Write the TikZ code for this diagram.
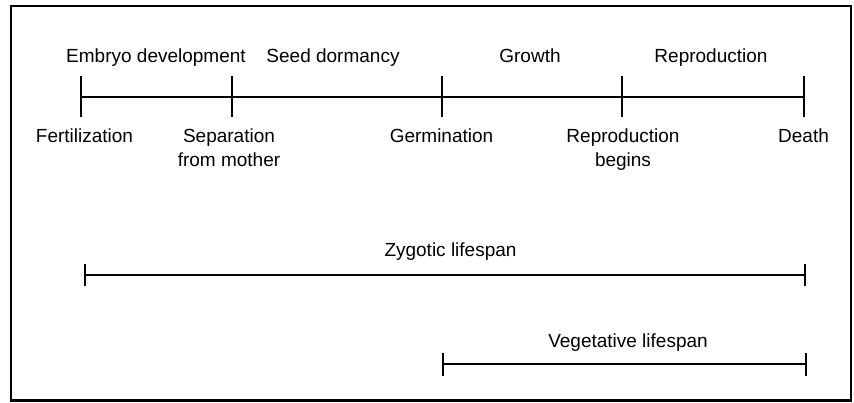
\documentclass[tikz,border=0pt]{standalone}
\usepackage{fontspec}
\setmainfont{Liberation Sans}
\begin{document}
\begin{tikzpicture}[x=1pt,y=-1pt,
  lbl/.style={font=\fontsize{19}{24}\selectfont, inner sep=0pt, align=center, anchor=base},
  bar/.style={line width=1.6pt},
  tick/.style={line width=1.4pt}]
\useasboundingbox (0,0) rectangle (854,402);
\draw[line width=2.2pt] (11,6) rectangle (851,400.5);
% main timeline points
\foreach \n/\x in {a/81,b/232,c/442,d/622,e/804}{
  \coordinate (\n) at (\x,97);
  \coordinate (\n t) at (\x,76);
  \coordinate (\n b) at (\x,117);
}
\draw[bar] (a) -- (b) -- (c) -- (d) -- (e);
\foreach \n in {a,b,c,d,e}{\draw[tick] (\n t) -- (\n b);}
% top labels
\node[lbl] (emb) at (156,62.5) {Embryo development};
\node[lbl] (sd) at (333,62.5) {Seed dormancy};
\node[lbl] (gr) at (530,62.5) {Growth};
\node[lbl] (rep) at (711,62.5) {Reproduction};
% bottom labels (base anchor = baseline of last line)
\node[lbl] (fer) at (84.5,142) {Fertilization};
\node[lbl] (sep) at (229,166) {Separation\\from mother};
\node[lbl] (ger) at (441.5,142) {Germination};
\node[lbl] (rb) at (623,166) {Reproduction\\begins};
\node[lbl] (dea) at (803.5,142) {Death};
% zygotic lifespan
\coordinate (z1) at (85,275); \coordinate (z2) at (805,275);
\coordinate (z1t) at (85,264); \coordinate (z1b) at (85,286);
\coordinate (z2t) at (805,264); \coordinate (z2b) at (805,286);
\draw[bar] (z1) -- (z2);
\draw[tick] (z1t) -- (z1b);
\draw[tick] (z2t) -- (z2b);
\node[lbl] (zl) at (450.5,256) {Zygotic lifespan};
% vegetative lifespan
\coordinate (v1) at (443,364); \coordinate (v2) at (806,364);
\coordinate (v1t) at (443,353); \coordinate (v1b) at (443,376);
\coordinate (v2t) at (806,353); \coordinate (v2b) at (806,376);
\draw[bar] (v1) -- (v2);
\draw[tick] (v1t) -- (v1b);
\draw[tick] (v2t) -- (v2b);
\node[lbl] (vl) at (628,347) {Vegetative lifespan};
\end{tikzpicture}
\end{document}
